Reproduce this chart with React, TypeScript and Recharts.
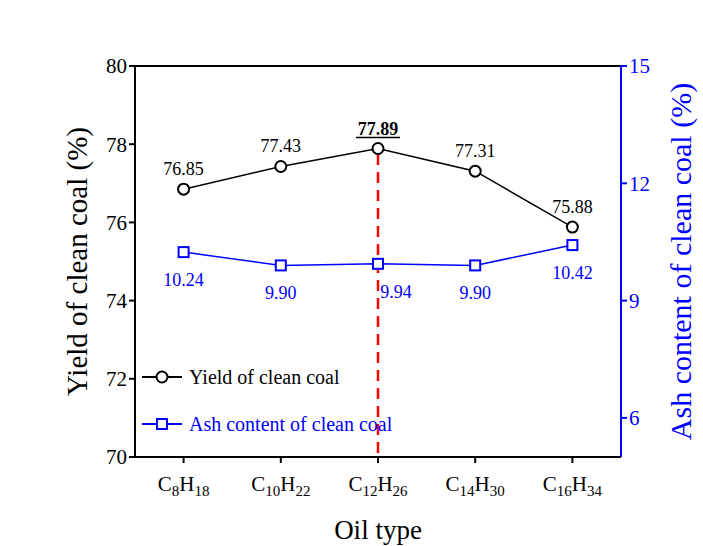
import React from 'react';
import { LineChart, Line, XAxis, YAxis, ReferenceLine, LabelList } from 'recharts';

const categories = ['C8H18', 'C10H22', 'C12H26', 'C14H30', 'C16H34'];
const carbonSub = ['8', '10', '12', '14', '16'];
const hydrogenSub = ['18', '22', '26', '30', '34'];
const yieldValues = [76.85, 77.43, 77.89, 77.31, 75.88];
const ashValues = [10.24, 9.9, 9.94, 9.9, 10.42];
const yieldTicks = [70, 72, 74, 76, 78, 80];
const ashTicks = [6, 9, 12, 15];

const data = categories.map((c, i) => ({
  name: c,
  idx: i,
  yieldV: yieldValues[i],
  ash: ashValues[i],
}));

const FONT = "'Times New Roman', 'Liberation Serif', 'DejaVu Serif', serif";
const BLUE = '#0000FF';

const XTick = (props: any) => {
  const { x, y, payload } = props;
  const i = categories.indexOf(payload.value);
  return (
    <text x={x} y={y + 26} textAnchor="middle" style={{ fontFamily: FONT }} fontSize={21} fill="#000">
      <tspan>C</tspan>
      <tspan fontSize={15} dy={5}>{carbonSub[i]}</tspan>
      <tspan dy={-5}>H</tspan>
      <tspan fontSize={15} dy={5}>{hydrogenSub[i]}</tspan>
    </text>
  );
};

const YieldLabel = (props: any) => {
  const { x, y, value, index } = props;
  const best = index === 2;
  const txt = Number(value).toFixed(2);
  return (
    <g>
      <text x={x} y={y - 14} textAnchor="middle" style={{ fontFamily: FONT }} fontSize={18}
        fontWeight={best ? 'bold' : 'normal'} fill="#000">{txt}</text>
      {best && <line x1={x - 22} x2={x + 22} y1={y - 11} y2={y - 11} stroke="#000" strokeWidth={1.5} />}
    </g>
  );
};

const AshLabel = (props: any) => {
  const { x, y, value, index } = props;
  const dx = index === 2 ? 18 : 0;
  return (
    <text x={x + dx} y={y + 34} textAnchor="middle" style={{ fontFamily: FONT }} fontSize={18} fill={BLUE}>
      {Number(value).toFixed(2)}
    </text>
  );
};

const LegendBox = () => (
  <div style={{ position: 'absolute', left: 142, top: 364, fontFamily: FONT, fontSize: 20, whiteSpace: 'nowrap' }}>
    <div style={{ display: 'flex', alignItems: 'center', height: 26, color: '#000' }}>
      <svg width={42} height={20}>
        <line x1={0} x2={40} y1={10} y2={10} stroke="#000" strokeWidth={2} />
        <circle cx={20} cy={10} r={5.5} fill="#fff" stroke="#000" strokeWidth={2} />
      </svg>
      <span style={{ marginLeft: 5 }}>Yield of clean coal</span>
    </div>
    <div style={{ display: 'flex', alignItems: 'center', height: 26, marginTop: 21, color: BLUE }}>
      <svg width={42} height={20}>
        <line x1={0} x2={40} y1={10} y2={10} stroke={BLUE} strokeWidth={2} />
        <rect x={15} y={5} width={10} height={10} fill="#fff" stroke={BLUE} strokeWidth={2} />
      </svg>
      <span style={{ marginLeft: 5 }}>Ash content of clean coal</span>
    </div>
  </div>
);

export default function App() {
  return (
    <div style={{ position: 'absolute', left: 0, top: 0, width: 703, height: 546, background: '#fff', fontFamily: FONT }}>
      <LineChart width={703} height={546} data={data} style={{ fontFamily: FONT }}
        margin={{ top: 66, right: 22, bottom: 39, left: 75 }}>
        <XAxis dataKey="name" tick={<XTick />} tickSize={6} height={50} scale="band"
          axisLine={{ stroke: '#000', strokeWidth: 2 }} tickLine={{ stroke: '#000', strokeWidth: 2 }}
          interval={0}
          label={{ value: 'Oil type', position: 'insideBottom', offset: -32, style: { fontFamily: FONT }, fontSize: 27, fill: '#000' }} />
        <YAxis yAxisId="left" domain={[70, 80]} ticks={yieldTicks} width={60} tickSize={6}
          axisLine={{ stroke: '#000', strokeWidth: 2 }} tickLine={{ stroke: '#000', strokeWidth: 2 }}
          tick={{ style: { fontFamily: FONT }, fontSize: 21, fill: '#000' }}
          label={{ value: 'Yield of clean coal (%)', angle: -90, position: 'insideLeft', offset: 2,
            style: { textAnchor: 'middle', fontFamily: FONT }, fontSize: 29, fill: '#000' }} />
        <YAxis yAxisId="right" orientation="right" domain={[5, 15]} ticks={ashTicks} width={60} tickSize={6}
          axisLine={{ stroke: BLUE, strokeWidth: 2 }} tickLine={{ stroke: BLUE, strokeWidth: 2 }}
          tick={{ style: { fontFamily: FONT }, fontSize: 21, fill: BLUE }}
          label={{ value: 'Ash content of clean coal (%)', angle: -90, position: 'insideRight', offset: 1,
            style: { textAnchor: 'middle', fontFamily: FONT }, fontSize: 30, fill: BLUE }} />
        <ReferenceLine yAxisId="left" y={80} stroke="#000" strokeWidth={2} />
        <ReferenceLine yAxisId="left" segment={[{ x: 'C12H26', y: 77.75 }, { x: 'C12H26', y: 70 }]}
          stroke="#FF0000" strokeWidth={2.5} strokeDasharray="11 7" />
        <Line yAxisId="left" dataKey="yieldV" stroke="#000" strokeWidth={1.5} isAnimationActive={false}
          dot={{ r: 5.5, fill: '#fff', stroke: '#000', strokeWidth: 2 }}>
          <LabelList dataKey="yieldV" content={<YieldLabel />} />
        </Line>
        <Line yAxisId="right" dataKey="ash" stroke={BLUE} strokeWidth={1.5} isAnimationActive={false}
          dot={(p: any) => (
            <rect key={p.index} x={p.cx - 5} y={p.cy - 5} width={10} height={10} fill="#fff" stroke={BLUE} strokeWidth={2} />
          )}>
          <LabelList dataKey="ash" content={<AshLabel />} />
        </Line>
      </LineChart>
      <LegendBox />
    </div>
  );
}
